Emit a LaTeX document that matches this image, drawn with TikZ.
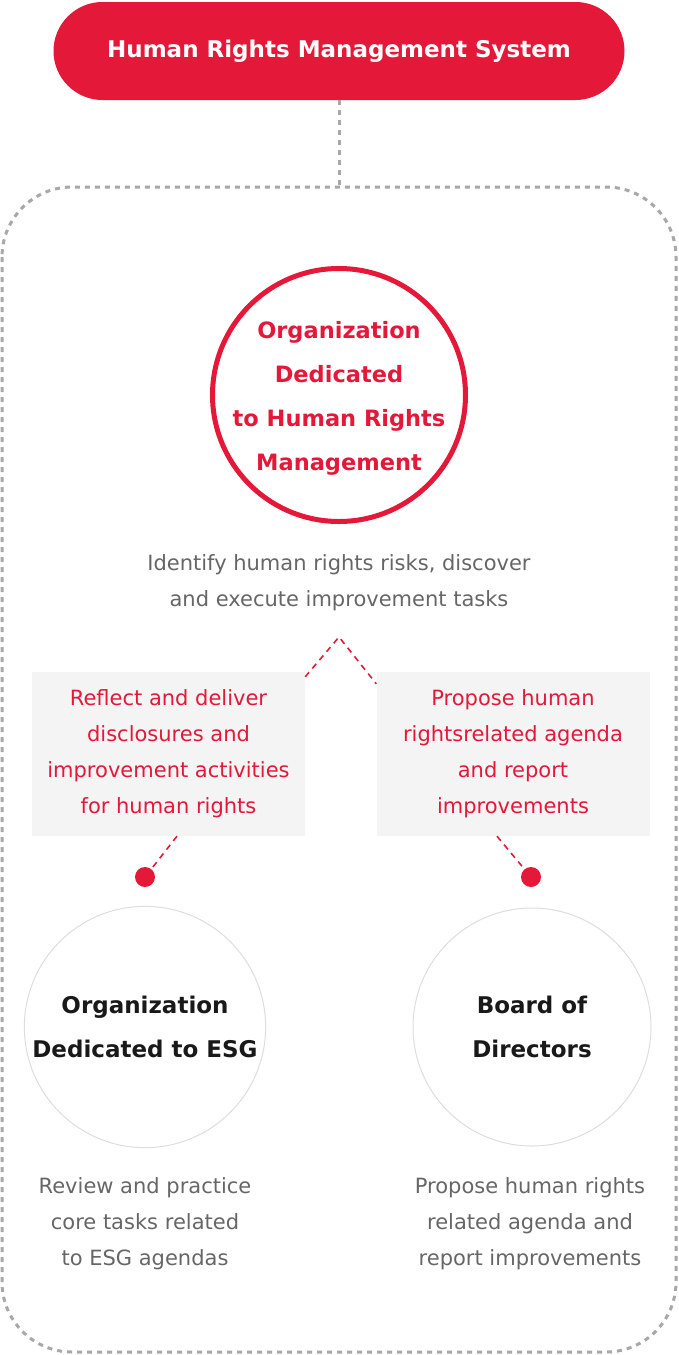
\documentclass[tikz,border=0pt]{standalone}
\usepackage{fontspec}
\setmainfont{DejaVu Sans}
\usetikzlibrary{arrows,shapes,fit,backgrounds,calc,positioning}
\definecolor{hrred}{HTML}{E4193A}
\definecolor{hrgray}{HTML}{A8A8A8}
\definecolor{hrtext}{HTML}{666666}
\definecolor{hrbox}{HTML}{F4F4F4}
\definecolor{hrring}{HTML}{DDDDDD}
\begin{document}
\begin{tikzpicture}[x=1pt, y=-1pt, >=latex]
    \tikzstyle{system}=[rectangle, rounded corners=49pt, fill=hrred, text=white, minimum width=571pt, minimum height=98pt, font=\fontsize{23}{26}\selectfont\bfseries]
    \tikzstyle{hub}=[circle, draw=hrred, line width=5pt, minimum size=253pt, inner sep=0pt]
    \tikzstyle{hubname}=[align=center, text=hrred, yshift=-3pt, font=\fontsize{22.5}{44}\selectfont\bfseries]
    \tikzstyle{unit}=[circle, draw=hrring, line width=1pt, minimum size=238pt, align=center, text=black!90, font=\fontsize{23}{44}\selectfont\bfseries]
    \tikzstyle{note}=[align=center, text=hrtext, yshift=-2pt, font=\fontsize{21}{36}\selectfont]
    \tikzstyle{flow}=[rectangle, fill=hrbox, minimum width=273pt, minimum height=164pt, align=center, text=hrred, font=\fontsize{21}{36}\selectfont]
    \tikzstyle{frame}=[draw=hrgray, line width=3pt, dash pattern=on 5pt off 5pt]
    \tikzstyle{link}=[draw=hrred, line width=1.6pt, dash pattern=on 6pt off 5pt]
    \tikzstyle{dot}=[circle, fill=hrred, minimum size=20pt, inner sep=0pt]
    \useasboundingbox (0,0) rectangle (678,1355);
    \draw[frame, rounded corners=70pt] (2,187) rectangle (676,1352);
    \coordinate (frametop) at (339,187);
    \node[system] (hrms) at (339,51) {\raisebox{-3pt}{Human Rights Management System}};
    \draw[frame] (hrms) -- (frametop);
    \node[hub] (org) at (339,395) {};
    \node[hubname] (orgname) at (org) {Organization\\Dedicated\\to Human Rights\\Management};
    \node[note] (orgtxt) at (339,581) {Identify human rights risks, discover\\and execute improvement tasks};
    \coordinate (apex) at (339,637);
    \node[flow] (lbox) at (168.5,754) {Reflect and deliver\\disclosures and\\improvement activities\\for human rights};
    \node[flow] (rbox) at (513,754) {Propose human\\rightsrelated agenda\\and report\\improvements};
    \draw[link] ($(lbox.north east)+(0,5)$) -- (apex) -- ($(rbox.north west)+(0,12)$);
    \node[dot] (ldot) at (145,877) {};
    \node[dot] (rdot) at (531,877) {};
    \draw[link] ($(lbox.south)+(8.5,0)$) -- (ldot);
    \draw[link] ($(rbox.south)+(-16,0)$) -- (rdot);
    \node[unit] (esg) at (145,1027) {Organization\\Dedicated to ESG};
    \node[unit] (bod) at (532,1027) {Board of\\Directors};
    \node[note] (esgtxt) at (145,1222) {Review and practice\\core tasks related\\to ESG agendas};
    \node[note] (bodtxt) at (530,1222) {Propose human rights\\related agenda and\\report improvements};
\end{tikzpicture}
\end{document}
